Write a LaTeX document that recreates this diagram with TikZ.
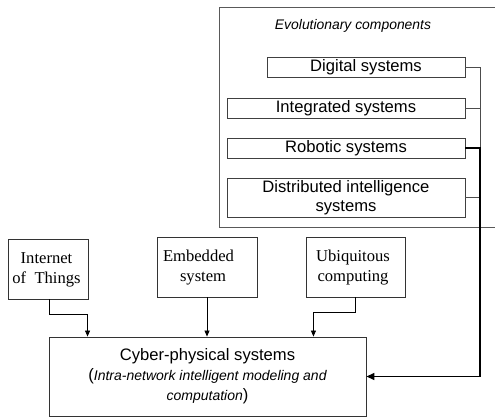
\documentclass[tikz,border=0pt]{standalone}
\usepackage{fontspec}
\setmainfont{Liberation Sans}
\newfontfamily\serifface{Liberation Serif}
\usetikzlibrary{arrows.meta}
\begin{document}
\begin{tikzpicture}[x=1pt,y=-1pt,
  frame/.style={draw=black!65, line width=0.9pt},
  evobox/.style={draw=black!75, line width=0.9pt, inner sep=0pt, align=center,
    font=\fontsize{16.6}{19}\selectfont},
  srcbox/.style={draw=black!80, line width=0.9pt, inner sep=0pt},
  srctext/.style={inner sep=0pt, font=\serifface\fontsize{16.6}{20}\selectfont},
  link/.style={draw=black!70, line width=0.9pt},
  feed/.style={draw=black, line width=1.5pt, -{Triangle[length=8pt,width=7pt]}},
  arr/.style={draw=black, line width=0.8pt, -{Triangle[length=6pt,width=5pt]}}
]
\useasboundingbox (0,0) rectangle (495,418);

% enclosing frame of the evolutionary components (open towards the right)
\draw[frame] (496,7) -- (219,7) -- (219,227) -- (496,227);
\node[inner sep=0pt, font=\itshape\fontsize{13.9}{16}\selectfont] (evo) at (353,26) {Evolutionary components};

% evolutionary components
\node[evobox, minimum width=198pt, minimum height=20pt] (dig) at (366,67) {Digital systems};
\node[evobox, minimum width=238pt, minimum height=20pt] (int) at (346,108) {Integrated systems};
\node[evobox, minimum width=238pt, minimum height=20pt] (rob) at (346,148) {Robotic systems};
\node[evobox, minimum width=238pt, minimum height=39pt] (dis) at (346,197.5) {Distributed intelligence\\systems};

% source technologies
\node[srcbox, minimum width=80pt, minimum height=60pt] (iot) at (48,269) {};
\node[srctext, align=center] (iott) at (46.5,270) {Internet\\of\ \ Things};
\node[srcbox, minimum width=100pt, minimum height=60pt] (emb) at (207,267) {};
\node[srctext, align=left] (embt) at (198.5,267.5) {Embedded\\\hspace*{17pt}system};
\node[srcbox, minimum width=99pt, minimum height=60pt] (ubi) at (355.5,267) {};
\node[srctext, align=center] (ubit) at (353,268) {Ubiquitous\\computing};

% cyber-physical systems
\node[srcbox, minimum width=317pt, minimum height=79pt, align=center,
  font=\fontsize{16.6}{20}\selectfont] (cps) at (207.5,376.5)
  {Cyber-physical systems\\
   ({\itshape\fontsize{14}{20}\selectfont Intra-network intelligent modeling and}\\
   {\itshape\fontsize{14}{20}\selectfont computation})};

% bus collecting the evolutionary components
\coordinate (bus) at (480,0);
\draw[link] (dig.east) -| (bus |- rob.east);
\draw[link] (int.east) -- (bus |- int.east);
\draw[link] (dis.east) -- (bus |- dis.east);
\draw[feed] (rob.east) -| (bus |- cps.east) -- (cps.east);

% inputs from the source technologies
\draw[arr] ([xshift=1pt]iot.south) -- ++(0,15) -| ([xshift=39pt]cps.north west);
\draw[arr] (emb.south) -- (emb.south |- cps.north);
\draw[arr] (ubi.south) -- ++(0,15) -| ([xshift=-53pt]cps.north east);
\end{tikzpicture}
\end{document}
